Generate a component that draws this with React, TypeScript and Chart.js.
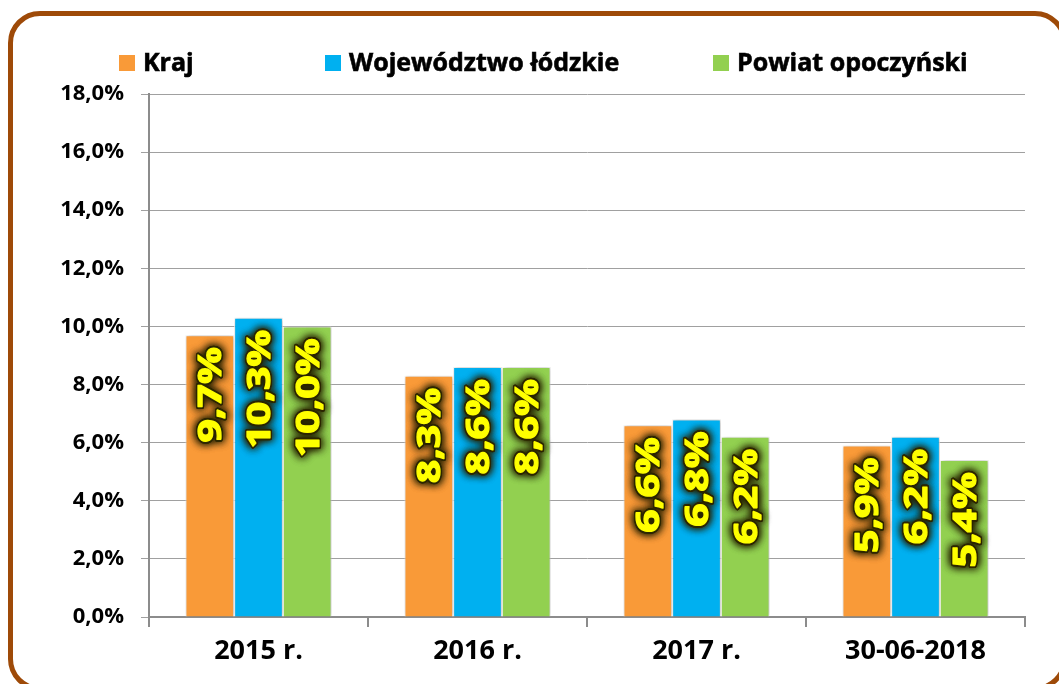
import React, { useEffect, useRef } from "react";
import { Chart, registerables } from "chart.js";

Chart.register(...registerables);

// ---- data ----
const categories = ["2015 r.", "2016 r.", "2017 r.", "30-06-2018"];
const seriesNames = ["Kraj", "Województwo łódzkie", "Powiat opoczyński"];
const krajValues = [9.7, 8.3, 6.6, 5.9];
const lodzkieValues = [10.3, 8.6, 6.8, 6.2];
const opoczynskiValues = [10.0, 8.6, 6.2, 5.4];
const yMin = 0;
const yMax = 18;
const yStep = 2;

const seriesColors = ["#F99A38", "#00B0F0", "#92D050"];
const FONT = "'Open Sans', 'DejaVu Sans', sans-serif";

const fmt = (v: number) => v.toFixed(1).replace(".", ",") + "%";

const legendX = [119, 325, 713];

const legendPlugin = {
  id: "customLegend",
  afterDraw(chart: any) {
    const ctx = chart.ctx;
    ctx.save();
    ctx.font = `bold 25px ${FONT}`;
    ctx.textBaseline = "alphabetic";
    ctx.textAlign = "left";
    chart.data.datasets.forEach((ds: any, i: number) => {
      const x = legendX[i];
      ctx.fillStyle = ds.backgroundColor;
      ctx.fillRect(x, 55, 16, 16);
      ctx.fillStyle = "#000";
      ctx.lineWidth = 0.6;
      ctx.strokeStyle = "#000";
      ctx.fillText(ds.label, x + 24, 71);
      ctx.strokeText(ds.label, x + 24, 71);
    });
    ctx.restore();
  },
};

const barShadowPlugin = {
  id: "barShadow",
  beforeDatasetsDraw(chart: any) {
    const ctx = chart.ctx;
    ctx.save();
    ctx.shadowColor = "rgba(0,0,0,0.3)";
    ctx.shadowBlur = 5;
    ctx.shadowOffsetX = 1;
    ctx.shadowOffsetY = 0;
  },
  afterDatasetsDraw(chart: any) {
    chart.ctx.restore();
  },
};

const dataLabelPlugin = {
  id: "valueLabels",
  afterDraw(chart: any) {
    const ctx = chart.ctx;
    chart.data.datasets.forEach((ds: any, di: number) => {
      const meta = chart.getDatasetMeta(di);
      meta.data.forEach((bar: any, i: number) => {
        const text = fmt(ds.data[i]);
        ctx.save();
        ctx.translate(bar.x, bar.y + 12);
        ctx.rotate(-Math.PI / 2);
        ctx.scale(1.28, 1);
        ctx.font = `bold 32px ${FONT}`;
        ctx.textAlign = "right";
        ctx.textBaseline = "alphabetic";
        ctx.lineJoin = "round";
        const yOff = 11.5;
        ctx.shadowColor = "rgba(40,34,0,0.9)";
        ctx.shadowBlur = 8;
        ctx.fillStyle = "#2e2800";
        ctx.strokeStyle = "#2e2800";
        ctx.lineWidth = 4;
        for (let k = 0; k < 2; k++) {
          ctx.strokeText(text, 0, yOff);
          ctx.fillText(text, 0, yOff);
        }
        ctx.shadowBlur = 0;
        ctx.shadowColor = "transparent";
        ctx.lineWidth = 1.2;
        ctx.strokeStyle = "#FFFF00";
        ctx.fillStyle = "#FFFF00";
        ctx.strokeText(text, 0, yOff);
        ctx.fillText(text, 0, yOff);
        ctx.restore();
      });
    });
  },
};

export default function App() {
  const canvasRef = useRef<HTMLCanvasElement | null>(null);

  useEffect(() => {
    if (!canvasRef.current) return;
    const values = [krajValues, lodzkieValues, opoczynskiValues];
    const chart = new Chart(canvasRef.current, {
      type: "bar",
      data: {
        labels: categories,
        datasets: seriesNames.map((name, i) => ({
          label: name,
          data: values[i],
          backgroundColor: seriesColors[i],
          borderColor: "#FFFFFF",
          borderWidth: 1,
          categoryPercentage: 0.667,
          barPercentage: 1.0,
        })),
      },
      options: {
        animation: false,
        responsive: false,
        maintainAspectRatio: false,
        layout: { padding: { top: 94, right: 34, left: 0, bottom: 0 } },
        plugins: {
          legend: { display: false },
          tooltip: { enabled: false },
          title: { display: false },
        },
        scales: {
          x: {
            grid: {
              display: true,
              drawOnChartArea: false,
              drawTicks: true,
              tickLength: 10,
              color: "#8C8C8C",
              lineWidth: 2,
              offset: true,
            },
            border: { display: true, color: "#8C8C8C", width: 2 },
            ticks: {
              color: "#000",
              font: { family: FONT, size: 27, weight: "bold" },
              padding: 8,
            },
            afterFit: (s: any) => {
              s.height = 67;
            },
          },
          y: {
            min: yMin,
            max: yMax,
            ticks: {
              stepSize: yStep,
              color: "#000",
              font: { family: FONT, size: 22, weight: "bold" },
              padding: 17,
              callback: (v: any) => fmt(Number(v)),
            },
            grid: {
              color: "#A0A0A0",
              lineWidth: 1,
              tickLength: 8,
              drawTicks: true,
            },
            border: { display: true, color: "#8C8C8C", width: 2 },
            afterFit: (s: any) => {
              s.width = 149;
            },
          },
        },
      },
      plugins: [barShadowPlugin, dataLabelPlugin, legendPlugin],
    });
    return () => chart.destroy();
  }, []);

  return (
    <div
      style={{
        position: "fixed",
        left: 0,
        top: 0,
        width: 1059,
        height: 684,
        overflow: "hidden",
        background: "#FFFFFF",
      }}
    >
      <div
        style={{
          position: "absolute",
          left: 8,
          top: 11,
          width: 1059,
          height: 680,
          border: "5px solid #9E4A08",
          borderRadius: 32,
          boxSizing: "border-box",
        }}
      />
      <canvas
        ref={canvasRef}
        width={1059}
        height={684}
        style={{ position: "absolute", left: 0, top: 0, width: 1059, height: 684 }}
      />
    </div>
  );
}
